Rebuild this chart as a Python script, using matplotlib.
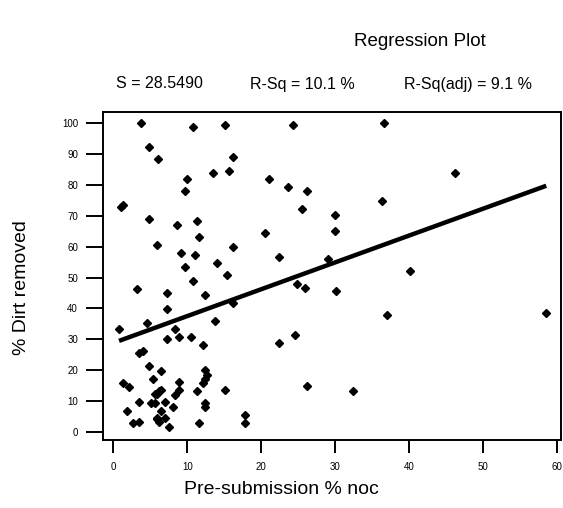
import numpy as np
import matplotlib
matplotlib.use('Agg')
import matplotlib.pyplot as plt

plt.rcParams['font.family'] = ['Liberation Sans', 'DejaVu Sans']

# pre-submission % noc (x) and % dirt removed (y)
noc = [3.74, 10.8, 15.1, 4.8, 6.1, 16.2, 13.5, 15.6, 9.96, 9.7,
       1.04, 1.3, 4.8, 8.6, 11.3, 11.6, 5.9, 16.2, 9.1, 11.0,
       14.0, 9.7, 15.4, 10.8, 3.2, 7.3, 12.4, 16.2, 7.3, 4.6,
       13.7, 0.77, 8.3, 7.3, 8.9, 10.5, 12.1, 3.5, 4.0, 4.8,
       6.4, 12.4, 12.7, 12.4, 12.1, 1.3, 2.1, 5.4, 8.9, 8.9,
       6.4, 6.2, 5.9, 5.6, 11.3, 15.1, 8.3, 3.5, 5.1, 5.6,
       7.0, 12.4, 12.4, 8.1, 6.4, 1.85, 5.9, 7.0, 6.2, 5.9,
       2.7, 3.5, 7.5, 11.6, 24.3, 36.7, 21.0, 23.7, 26.2, 36.4,
       25.6, 30.0, 30.0, 20.5, 22.4, 29.1, 24.8, 25.9, 30.2, 37.0,
       24.6, 22.4, 26.2, 32.4, 17.8, 17.8, 46.2, 40.2, 58.6]
dirt = [100.0, 98.8, 99.4, 92.3, 88.4, 89.1, 83.9, 84.5, 81.9, 78.0,
        72.8, 73.4, 68.9, 67.0, 68.3, 63.1, 60.5, 59.8, 57.9, 57.2,
        54.6, 53.3, 50.7, 48.8, 46.2, 44.9, 44.3, 41.7, 39.7, 35.2,
        35.8, 33.2, 33.2, 30.0, 30.6, 30.6, 28.0, 25.4, 26.1, 21.5,
        19.6, 20.2, 18.3, 17.0, 15.7, 15.7, 14.4, 17.0, 16.3, 13.7,
        13.7, 13.1, 12.4, 12.4, 13.1, 13.7, 11.8, 9.8, 9.2, 9.2,
        9.8, 9.2, 7.9, 7.9, 6.6, 6.6, 4.6, 4.6, 3.3, 4.0,
        2.7, 3.3, 1.4, 2.7, 99.4, 100.0, 81.9, 79.3, 78.0, 74.8,
        72.2, 70.2, 65.0, 64.4, 56.6, 55.9, 48.1, 46.8, 45.6, 37.8,
        31.3, 28.7, 15.0, 13.1, 5.3, 2.7, 83.9, 52.0, 38.4]

fit_intercept = 28.83
fit_slope = 0.8697

x_ticks = [0, 10, 20, 30, 40, 50, 60]
y_ticks = [0, 10, 20, 30, 40, 50, 60, 70, 80, 90, 100]

fig = plt.figure(figsize=(5.63, 5.08), dpi=100)
ax = fig.add_axes([0.183, 0.1348, 0.8135, 0.644])

ax.plot(noc, dirt, linestyle='none', marker='D', markersize=4.2,
        color='black')
xs = np.sort(np.array(noc))
ax.plot(xs, fit_intercept + fit_slope * xs, color='black', linewidth=3.2,
        solid_capstyle='butt')

ax.set_xlim(-1.4, 60.6)
ax.set_ylim(-2.5, 103.6)
ax.set_xticks(x_ticks)
ax.set_yticks(y_ticks)
ax.tick_params(axis='y', length=12, width=1.4, pad=6, labelsize=7)
ax.tick_params(axis='x', length=9, width=1.4, pad=7, labelsize=7)
for sp in ax.spines.values():
    sp.set_linewidth(1.4)

fig.text(420 / 563, 1 - 42 / 508, 'Regression Plot', fontsize=13.5,
         ha='center', va='center')
fig.text(116 / 563, 1 - 84 / 508, 'S = 28.5490', fontsize=11.5,
         ha='left', va='center')
fig.text(250 / 563, 1 - 84 / 508, 'R-Sq = 10.1 %', fontsize=11.5,
         ha='left', va='center')
fig.text(404 / 563, 1 - 84 / 508, 'R-Sq(adj) = 9.1 %', fontsize=11.5,
         ha='left', va='center')
fig.text(281 / 563, 1 - 490 / 508, 'Pre-submission % noc', fontsize=14,
         ha='center', va='center')
fig.text(22 / 563, 1 - 288 / 508, '% Dirt removed', fontsize=14,
         ha='center', va='center', rotation=90)

fig.savefig('out.png', dpi=100)
